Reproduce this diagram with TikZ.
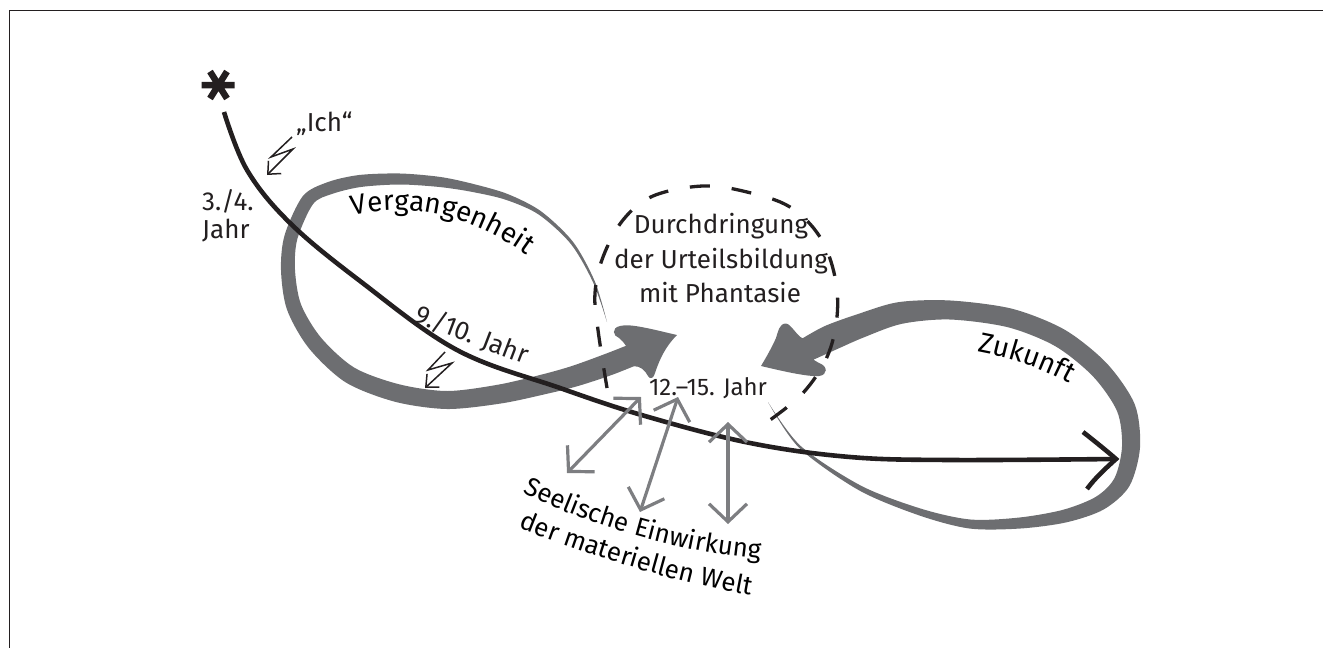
\documentclass[tikz,border=0pt]{standalone}
\usepackage{fontspec}
\setmainfont{Fira Sans}
\usetikzlibrary{decorations.text,arrows.meta}
\definecolor{loopgray}{RGB}{109,110,113}
\definecolor{arrgray}{RGB}{125,126,129}
\definecolor{ink}{RGB}{35,31,32}
\newcommand\lblfont{\fontsize{26}{31}\selectfont}
\newcommand\arcfont{\fontsize{28}{33}\selectfont}
\newcommand\smlfont{\fontsize{24}{28}\selectfont}
\begin{document}
\begin{tikzpicture}[x=1pt,y=-1pt,
  lbl/.style={font=\lblfont, text=ink, inner sep=0pt},
  dbl/.style={draw=arrgray, line width=3.2pt, {Straight Barb[length=18pt,width=38pt]}-{Straight Barb[length=18pt,width=38pt]}},
  bolt/.style={draw=ink, line width=1.5pt, line join=miter, -{Straight Barb[length=10pt,width=18pt]}},
  alongtext/.style={decorate, decoration={text along path, text={|\arcfont|#1}, text align=center}},
  alongsml/.style={decorate, decoration={text along path, text={|\lblfont|#1}, text align=center}}
]
\useasboundingbox (0,0) rectangle (1323,648);
% frame
\draw[ink, line width=1pt] (1323,10.5) -- (9.5,10.5) -- (9.5,648);

% Vergangenheit loop (tapered band with arrow head)
\fill[loopgray] plot[smooth, tension=0.5] coordinates {(607,322) (594.9,281.6) (573.2,242.1) (541.2,211.4) (508.1,194.2) (473.9,184.1) (440.6,177.0) (400.1,173.5) (359.2,175.0) (327.8,182.1) (302.9,196.0) (284.6,235.2) (281.0,270.3) (287.0,309.6) (308.8,348.1) (345.6,382.3) (394.8,401.7) (446.9,409) (501.5,403.4) (547.3,393.7) (578.1,386) (610.8,375.3) (634,366.2)}
  .. controls (640,366) and (645,370) .. (648,376)
  .. controls (650,380) and (654,378) .. (655,373)
  .. controls (660,358) and (666,346) .. (677,335)
  .. controls (655,330) and (630,323) .. (620,326)
  .. controls (611,328) and (613,336) .. (619,338)
  .. controls (622,340) and (624,343) .. (626,345.8)
  -- plot[smooth, tension=0.5] coordinates {(626,345.8) (603.2,354.7) (571.9,366) (542.7,374.3) (498.5,384.6) (447.1,391) (399.2,384.3) (354.4,367.7) (321.2,337.9) (301.0,304.4) (295.0,269.7) (297.4,238.8) (313.1,204.0) (332.2,193.9) (360.8,187.0) (399.9,184.5) (439.4,187.0) (472.1,191.9) (505.9,199.8) (538.8,214.6) (570.8,243.9) (593.1,282.4) (607,322)} -- cycle;

% Zukunft loop (tapered band with arrow head)
\fill[loopgray] plot[smooth, tension=0.5] coordinates {(768,402) (799.2,447.9) (858.8,490.2) (918.9,515.3) (969.5,528.5) (1020.5,528.5) (1066.6,522.3) (1103.8,509.4) (1129.4,486.1) (1140,447.5) (1134.8,404.5) (1106.9,363.5) (1064.8,329.8) (1012.3,308.8) (950.4,300.5) (898.1,302.2) (856,314.7) (824.7,326.1) (802.6,338.3)}
  .. controls (797,336) and (791,324) .. (786,323.5)
  .. controls (779,323.5) and (778,332) .. (776,338)
  .. controls (772,347) and (767,356) .. (761,366)
  .. controls (782,371) and (808,377) .. (819,376)
  .. controls (828,375) and (828,366) .. (819,363)
  -- (813.4,359.7)
  -- plot[smooth, tension=0.5] coordinates {(813.4,359.7) (835.3,349.9) (864,337.3) (901.9,323.8) (949.6,319.5) (1007.7,327.2) (1055.3,346.2) (1093.1,376.5) (1117.2,411.5) (1122,446.5) (1114.6,477.9) (1096.2,496.6) (1063.4,509.7) (1019.5,517.5) (970.5,519.5) (921.1,508.7) (861.2,485.8) (800.8,446.1) (768,402)} -- cycle;

% timeline
\coordinate (tstart) at (224,112);
\coordinate (tend) at (1116,459);
\draw[ink, line width=4.6pt] plot[smooth, tension=0.6] coordinates {(224,112) (247,170) (290,223) (360,281) (457,350) (560,388) (645,416) (750,443) (850,457) (950,460) (1116,459)};
\draw[ink, line width=4.6pt, line join=miter] (1083,432) .. controls (1097,443) and (1108,452) .. (tend) .. controls (1106,468) and (1095,478) .. (1087,489);

% asterisk
\draw[ink, line width=6.5pt] (201.5,85) -- (234.5,85) (210,71.5) -- (227,98.5) (227,71.5) -- (210,98.5);

% dashed circle
\draw[ink, line width=3.3pt, dash pattern=on 20pt off 22pt] plot[smooth, tension=0.6] coordinates {(607,388) (598,330) (595,293) (603,257) (623,220) (653,196) (703,186) (747,192) (790,207) (820,237) (835,277) (837,317) (827,357) (803,393) (770,420)};

% lightning bolts
\draw[bolt] (292,137) -- (271,157) -- (293,149) -- (267,175);
\draw[bolt] (445,352) -- (428,370) -- (452,363) -- (425,388);

% double arrows
\coordinate (a1t) at (641,397); \coordinate (a1b) at (567,473);
\coordinate (a2t) at (678,397); \coordinate (a2b) at (640,512);
\coordinate (a3t) at (728,422); \coordinate (a3b) at (728,524);
\draw[dbl] (a1b) -- (a1t);
\draw[dbl] (a2b) -- (a2t);
\draw[dbl] (a3b) -- (a3t);

% texts
\node[lbl, anchor=base] (d1) at (721,233) {Durchdringung};
\node[lbl, anchor=base] (d2) at (721,268) {der Urteilsbildung};
\node[lbl, anchor=base] (d3) at (720,302) {mit Phantasie};
\node[lbl, font=\smlfont, anchor=base] (j12) at (708,395) {12.–15. Jahr};
\node[lbl, anchor=base west] (j3) at (202,210) {3./4.};
\node[lbl, anchor=base west] (j3b) at (202,238) {Jahr};
\node[lbl, anchor=base west] (ich) at (296,131) {„Ich“};
\node[lbl, anchor=base, rotate=-21] (j9) at (469,343) {9./10. Jahr};
\path[alongtext=Vergangenheit] (330,222) .. controls (390,200) and (470,205) .. (545,270);
\path[alongtext=Zukunft] (965,350) .. controls (1005,356) and (1045,368) .. (1080,390);
\path[alongsml=Seelische Einwirkung] (510,485) .. controls (570,520) and (680,555) .. (775,560);
\path[alongsml=der materiellen Welt] (505,522) .. controls (570,550) and (680,585) .. (765,598);
\end{tikzpicture}
\end{document}
